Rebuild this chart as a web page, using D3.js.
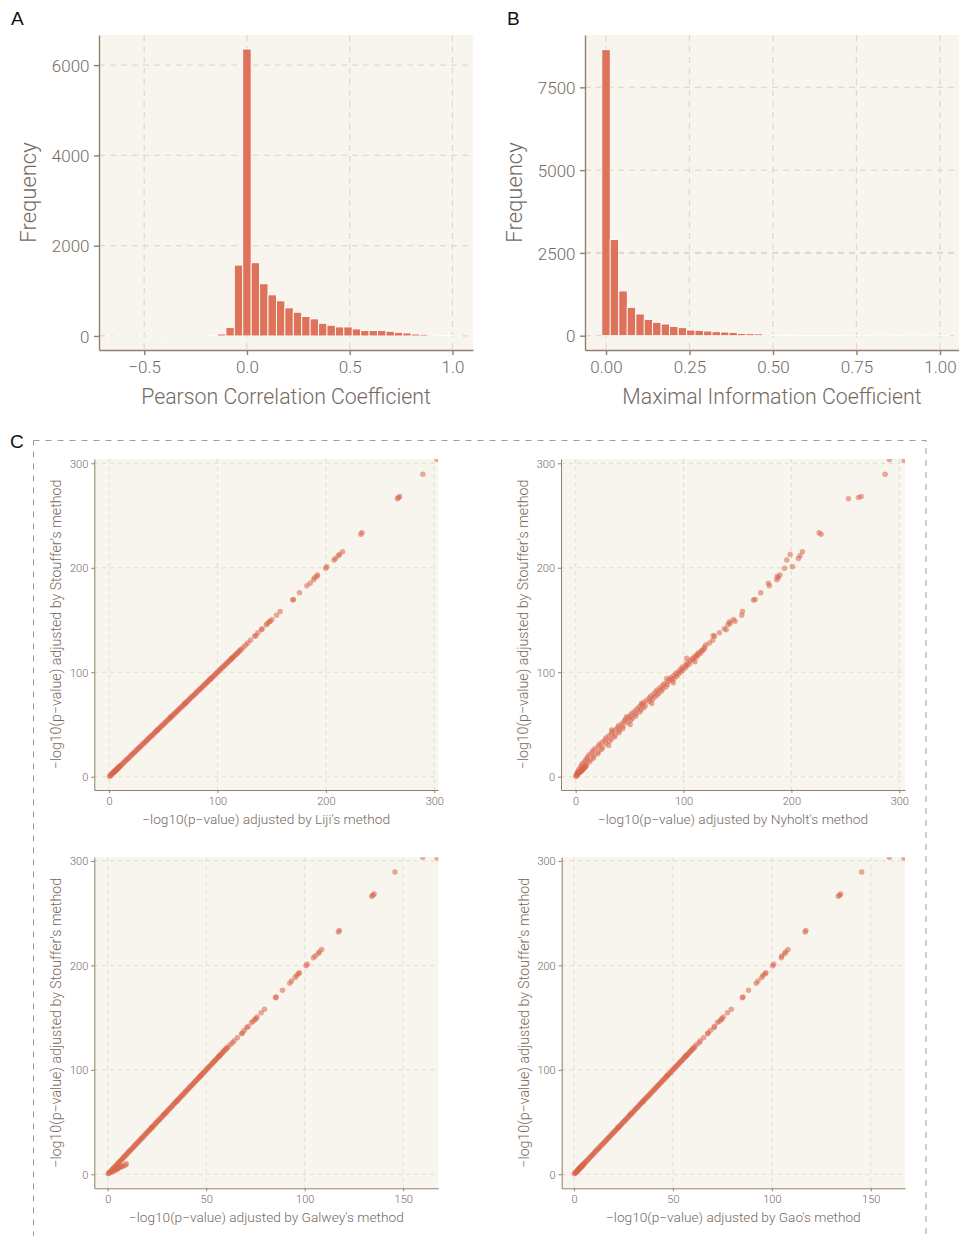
<!DOCTYPE html>
<html><head><meta charset="utf-8">
<script src="https://cdn.jsdelivr.net/npm/d3@7"></script>
<style>body{margin:0;background:#fff}svg{display:block}</style>
</head><body>
<svg id="chart" width="959" height="1236"></svg>
<script>
// ---------------- DATA ----------------
// Panel A: Pearson correlation histogram
const pearsonBinWidth = 0.041;
const pearsonMid = [-0.656,-0.615,-0.574,-0.533,-0.492,-0.451,-0.41,-0.369,-0.328,-0.287,-0.246,-0.205,-0.164,-0.123,-0.082,-0.041,0,0.041,0.082,0.123,0.164,0.205,0.246,0.287,0.328,0.369,0.41,0.451,0.492,0.533,0.574,0.615,0.656,0.697,0.738,0.779,0.82,0.861,0.902,0.943,0.984,1.025];
const pearsonCount = [1,1,1,1,1,2,2,2,3,3,4,6,15,44,185,1570,6356,1622,1156,911,778,622,526,430,378,281,237,200,200,156,119,119,119,104,81,67,44,37,22,15,10,5];
const pearsonXTicks = [-0.5,0,0.5,1.0];
const pearsonXLabels = ["\u22120.5","0.0","0.5","1.0"];
const pearsonYTicks = [0,2000,4000,6000];

// Panel B: MIC histogram
const micBinWidth = 0.0254;
const micMid = [0,0.025,0.051,0.076,0.102,0.127,0.152,0.178,0.203,0.229,0.254,0.279,0.305,0.33,0.356,0.381,0.406,0.432,0.457,0.483,0.508,0.533,0.559,0.584,0.61,0.635,0.66,0.686,0.711,0.737,0.762,0.787,0.813,0.838,0.864,0.889,0.914,0.94,0.965,0.991,1.016];
const micCount = [8639,2903,1351,857,655,494,403,353,282,242,171,161,141,121,111,101,70,60,55,30,25,20,15,12,10,8,6,5,4,3,3,2,2,2,1,1,1,1,1,1,1];
const micXTicks = [0,0.25,0.5,0.75,1.0];
const micXLabels = ["0.00","0.25","0.50","0.75","1.00"];
const micYTicks = [0,2500,5000,7500];

// Panel C: -log10(p) adjusted values (same tests in every sub-plot)
const stouffer = [
 0.5,2,4,6,8,10,12,14,16,18,20,22,24,26,28,30,32,34,36,38,40,42,44,46,48,50,52,54,56,58,60,62,64,66,68,70,72,74,76,78,80,82,84,86,88,90,92,94,96,98,100,102,104,106,108,110,112,114,116,118,120,122,
 1,3,5,7,9,11,13,15,17,19,21,23,25,27,29,31,33,35,37,39,41,43,45,47,49,51,53,55,57,59,61,63,65,67,69,71,73,75,77,79,81,83,85,87,89,91,93,95,97,99,101,103,105,107,109,111,113,115,117,119,121,
 303.6,302.7,289.5,268.3,267.2,266.1,233.5,232.1,215.3,212.8,211.4,208.9,207.4,201,199.6,193,191.9,190.4,188.5,185.1,182.8,176.1,169.7,169.1,158.1,154.6,150.5,148.9,148.3,146.6,145.4,141.6,140.6,137.7,135.2,134.5,130.7,127.9,126,124,
 44.7,57.4,70.2,94.1,113.3,
 2,3,4,5,6,7,8,9,10,4,6,8,5,7];
const liji = [
 0.5,2,4,6,8,10,12,14,16,18,20,22,24,26,28,30,32,34,36,38,40,42,44,46,48,50,52,54,56,58,60,62,64,66,68,70,72,74,76,78,80,82,84,86,88,90,92,94,96,98,100,102,104,106,108,110,112,114,116,118,120,122,
 1,3,5,7,9,11,13,15,17,19,21,23,25,27,29,31,33,35,37,39,41,43,45,47,49,51,53,55,57,59,61,63,65,67,69,71,73,75,77,79,81,83,85,87,89,91,93,95,97,99,101,103,105,107,109,111,113,115,117,119,121,
 302.9,309,289.4,268,267,266,233.3,232.2,215.3,212.6,211.5,208.8,207.5,200.8,199.8,192.2,191.8,189.5,188.7,185.5,182.5,175.6,170,169.5,157.8,154.5,150.2,148.5,148,146,145,141.2,140.5,137.3,135.5,134.2,130.5,128,126,124,
 44.5,57,70,94,113,
 2,3,4,5,6,7,8,9,10,4,6,8,5,7];
const nyholt = [
 0.5,1.5,3,5.5,6.5,9,10,12.5,14,16.5,17,20.5,21,24,25,30.5,28,31.5,33,36,36.5,40,40.5,43.5,44,50.5,48,51,52.5,55.5,56,59.5,60.5,63,64.5,70.5,68.5,71,73,75.5,77,79.5,80.5,83.5,85,90.5,89,91,93.5,95,97.5,99,101.5,103,105.5,110.5,109,111.5,113,115.5,117,119,
 0.3,1,2,3,4.5,5.5,6.5,8.5,10,11,12.5,15,16,18,21,22,24.5,27,28,30.5,33,34,37,39,40,43,45,46,49,51,52.5,55,57,59,61.5,63,65.5,68,69.5,72,74,75.5,78,80.5,82,85,87,88.5,91,93,95.5,97.5,99,102,103.5,106,108,110,112.5,114,117,
 290.9,304.5,286.9,264.7,262.2,252.9,225.7,227.5,210.2,198.8,208,206.5,195.7,200.9,193.5,189.4,186.9,187.8,186.3,178.7,179.6,171.6,166.3,164.8,154.6,154,146.2,147.8,142.5,143.2,141,137.8,139.6,133.2,127.6,128.6,127,124,120.5,119.5,
 33.4,47.3,61,84.4,103,
 1.5,2.5,3.5,4.5,5.5,6.5,7.5,8.5,9.5,3.5,5.5,7.5,4.5,6.5];
const galwey = [
 0.3,1,2,3,4,5,6,7,8,9,10,11,12,13,14,15,16,17,18,19,20,21,22,23,24,25,26,27,28,29,30,31,32,33,34,35,36,37,38,39,40,41,42,43,44,45,46,47,48,49,50,51,52,53,54,55,56,57,58,59,60,61,
 0.5,1.5,2.5,3.5,4.5,5.5,6.5,7.5,8.5,9.5,10.5,11.5,12.5,13.5,14.5,15.5,16.5,17.5,18.5,19.5,20.5,21.5,22.5,23.5,24.5,25.5,26.5,27.5,28.5,29.5,30.5,31.5,32.5,33.5,34.5,35.5,36.5,37.5,38.5,39.5,40.5,41.5,42.5,43.5,44.5,45.5,46.5,47.5,48.5,49.5,50.5,51.5,52.5,53.5,54.5,55.5,56.5,57.5,58.5,59.5,60.5,
 159.9,167.3,145.8,135.2,134.6,134,117.6,117.1,108.6,107.4,106.9,105.3,104.4,101.3,100.7,97.3,96.8,95.9,95.1,93.3,92.4,88.7,85.5,85.2,79.6,77.9,75.8,75.2,74.8,73.8,73,71.3,70.6,69.3,68.4,67.9,65.8,64.2,63.3,62.2,
 22.4,28.7,35.1,47.1,56.7,
 2,3,4,5,5.5,7,8,9,9.5,3,5,7,4,6];
const gao = [
 0.3,1,2,3,4,5,6,7,8,9,10,11,12,13,14,15,16,17,18,19,20,21,22,23,24,25,26,27,28,29,30,31,32,33,34,35,36,37,38,39,40,41,42,43,44,45,46,47,48,49,50,51,52,53,54,55,56,57,58,59,60,61,
 0.5,1.5,2.5,3.5,4.5,5.5,6.5,7.5,8.5,9.5,10.5,11.5,12.5,13.5,14.5,15.5,16.5,17.5,18.5,19.5,20.5,21.5,22.5,23.5,24.5,25.5,26.5,27.5,28.5,29.5,30.5,31.5,32.5,33.5,34.5,35.5,36.5,37.5,38.5,39.5,40.5,41.5,42.5,43.5,44.5,45.5,46.5,47.5,48.5,49.5,50.5,51.5,52.5,53.5,54.5,55.5,56.5,57.5,58.5,59.5,60.5,
 159.4,166.8,145.4,134.8,134.2,133.6,117.2,116.8,108.2,107,106.5,105,104.8,101,100.4,97,96.6,95.5,94.9,93,92.1,88.2,85.4,85.1,79.5,77.6,75.5,74.7,74.5,73.5,72.5,71,70.8,69,67.8,67.5,65.5,63.8,63.3,61.8,
 22.3,28.6,35,47,56.6,
 1,1.5,2,2.5,3,3.5,4,4.5,5,2,3,4,2.5,3.5];
const stoufferTicks = [0,100,200,300];
const ticks300 = [0,100,200,300];
const ticks150 = [0,50,100,150];

// ---------------- STYLE ----------------
const C = {bg:'#F8F5EE', grid:'#E0DAC8', axis:'#927F6C', text:'#76695E', bar:'#DE735B', point:'#D8664C'};
const FONT = "Roboto, 'Liberation Sans', Arial, sans-serif";
const svg = d3.select('#chart');

function styleAxis(ax, w){
  ax.select('.domain').attr('stroke', C.axis).attr('stroke-width', w);
  ax.selectAll('.tick line').attr('stroke', C.axis).attr('stroke-width', w);
  ax.selectAll('.tick text').attr('fill', C.text).attr('font-family', FONT).attr('font-weight', 300);
}

function hist(o){
  const g = svg.append('g');
  const x = d3.scaleLinear().domain(o.xDom).range([o.left, o.right]);
  const y = d3.scaleLinear().domain(o.yDom).range([o.bottom, o.top]);
  g.append('rect').attr('x', o.left).attr('y', o.top).attr('width', o.right - o.left).attr('height', o.bottom - o.top).attr('fill', C.bg);
  g.selectAll(null).data(o.xTicks).join('line')
    .attr('x1', d => x(d)).attr('x2', d => x(d)).attr('y1', o.top).attr('y2', o.bottom)
    .attr('stroke', C.grid).attr('stroke-width', 1.3).attr('stroke-dasharray', '6,5');
  g.selectAll(null).data(o.yTicks).join('line')
    .attr('y1', d => y(d)).attr('y2', d => y(d)).attr('x1', o.left).attr('x2', o.right)
    .attr('stroke', C.grid).attr('stroke-width', (d, i) => o.thick === d ? 2.4 : 1.3).attr('stroke-dasharray', '6,5');
  g.selectAll(null).data(o.mids).join('rect')
    .attr('x', d => x(d - o.w / 2)).attr('width', d => x(d + o.w / 2) - x(d - o.w / 2))
    .attr('y', (d, i) => y(o.counts[i])).attr('height', (d, i) => y(0) - y(o.counts[i]))
    .attr('fill', C.bar).attr('stroke', '#fff').attr('stroke-width', 0.9);
  const ax = g.append('g').attr('transform', `translate(0,${o.bottom})`)
    .call(d3.axisBottom(x).tickValues(o.xTicks).tickFormat((d, i) => o.xLabels[i]).tickSize(5).tickSizeOuter(0));
  styleAxis(ax, 1.4);
  ax.selectAll('.tick text').attr('y', 23).attr('dy', 0).attr('font-size', 17);
  const ay = g.append('g').attr('transform', `translate(${o.left},0)`)
    .call(d3.axisLeft(y).tickValues(o.yTicks).tickFormat(d3.format('d')).tickSize(5).tickSizeOuter(0));
  styleAxis(ay, 1.4);
  ay.selectAll('.tick text').attr('x', -9.5).attr('dy', '0.36em').attr('font-size', 17);
  g.append('text').attr('x', (o.left + o.right) / 2).attr('y', o.bottom + 54).attr('text-anchor', 'middle')
    .attr('font-family', FONT).attr('font-weight', 300).attr('font-size', 21.3).attr('fill', C.text).text(o.xTitle);
  g.append('text').attr('transform', `translate(${o.left - 63},${(o.top + o.bottom) / 2}) rotate(-90)`).attr('text-anchor', 'middle')
    .attr('font-family', FONT).attr('font-weight', 300).attr('font-size', 22).attr('fill', C.text).text('Frequency');
}

let clipId = 0;
function scatter(o){
  const g = svg.append('g');
  const x = d3.scaleLinear().domain(o.xDom).range([o.left, o.right]);
  const y = d3.scaleLinear().domain(o.yDom).range([o.bottom, o.top]);
  g.append('rect').attr('x', o.left).attr('y', o.top).attr('width', o.right - o.left).attr('height', o.bottom - o.top).attr('fill', C.bg);
  g.selectAll(null).data(o.xTicks).join('line')
    .attr('x1', d => x(d)).attr('x2', d => x(d)).attr('y1', o.top).attr('y2', o.bottom)
    .attr('stroke', C.grid).attr('stroke-width', 0.9).attr('stroke-dasharray', '4,4');
  g.selectAll(null).data(stoufferTicks).join('line')
    .attr('y1', d => y(d)).attr('y2', d => y(d)).attr('x1', o.left).attr('x2', o.right)
    .attr('stroke', C.grid).attr('stroke-width', 0.9).attr('stroke-dasharray', '4,4');
  const id = 'clip' + (clipId++);
  svg.append('clipPath').attr('id', id).append('rect')
    .attr('x', o.left).attr('y', o.top).attr('width', o.right - o.left).attr('height', o.bottom - o.top);
  g.append('g').attr('clip-path', `url(#${id})`).selectAll('circle').data(o.xs).join('circle')
    .attr('cx', d => x(d)).attr('cy', (d, i) => y(stouffer[i])).attr('r', 2.75)
    .attr('fill', C.point).attr('fill-opacity', 0.55);
  const ax = g.append('g').attr('transform', `translate(0,${o.bottom})`)
    .call(d3.axisBottom(x).tickValues(o.xTicks).tickFormat(d3.format('d')).tickSize(3).tickSizeOuter(0));
  styleAxis(ax, 1);
  ax.selectAll('.tick text').attr('y', 15).attr('dy', 0).attr('font-size', 11);
  const ay = g.append('g').attr('transform', `translate(${o.left},0)`)
    .call(d3.axisLeft(y).tickValues(stoufferTicks).tickFormat(d3.format('d')).tickSize(3).tickSizeOuter(0));
  styleAxis(ay, 1);
  ay.selectAll('.tick text').attr('x', -6).attr('dy', '0.36em').attr('font-size', 11);
  g.append('text').attr('x', (o.left + o.right) / 2).attr('y', o.bottom + 34).attr('text-anchor', 'middle')
    .attr('font-family', FONT).attr('font-weight', 300).attr('font-size', 13.7).attr('fill', C.text).text(o.xTitle);
  g.append('text').attr('transform', `translate(${o.left - 33},${(o.top + o.bottom) / 2}) rotate(-90)`).attr('text-anchor', 'middle')
    .attr('font-family', FONT).attr('font-weight', 300).attr('font-size', 14.2).attr('fill', C.text)
    .text("\u2212log10(p\u2212value) adjusted by Stouffer's method");
}

// ---------------- DRAW ----------------
hist({left: 99, right: 473, top: 35, bottom: 350, xDom: [-0.72, 1.10], yDom: [-311, 6667],
  mids: pearsonMid, counts: pearsonCount, w: pearsonBinWidth,
  xTicks: pearsonXTicks, xLabels: pearsonXLabels, yTicks: pearsonYTicks, xTitle: 'Pearson Correlation Coefficient'});
hist({left: 585, right: 959, top: 35, bottom: 350, xDom: [-0.063, 1.057], yDom: [-432, 9081],
  mids: micMid, counts: micCount, w: micBinWidth, thick: 2500,
  xTicks: micXTicks, xLabels: micXLabels, yTicks: micYTicks, xTitle: 'Maximal Information Coefficient'});

// dashed frame of panel C
svg.append('rect').attr('x', 33.5).attr('y', 440.5).attr('width', 892.5).attr('height', 820)
  .attr('fill', 'none').attr('stroke', '#9C9C9C').attr('stroke-width', 1).attr('stroke-dasharray', '6,6');

scatter({left: 94.3, right: 438, top: 459, bottom: 790, xDom: [-13.6, 303.4], yDom: [-12.7, 304.1],
  xs: liji, xTicks: ticks300, xTitle: "\u2212log10(p\u2212value) adjusted by Liji's method"});
scatter({left: 561, right: 905, top: 459, bottom: 790, xDom: [-13.6, 305.3], yDom: [-12.7, 304.1],
  xs: nyholt, xTicks: ticks300, xTitle: "\u2212log10(p\u2212value) adjusted by Nyholt's method"});
scatter({left: 94.3, right: 438.3, top: 857.3, bottom: 1188.3, xDom: [-6.8, 167.8], yDom: [-13.4, 303.5],
  xs: galwey, xTicks: ticks150, xTitle: "\u2212log10(p\u2212value) adjusted by Galwey's method"});
scatter({left: 561.7, right: 905, top: 857.3, bottom: 1188.3, xDom: [-6.2, 167.3], yDom: [-13.4, 303.5],
  xs: gao, xTicks: ticks150, xTitle: "\u2212log10(p\u2212value) adjusted by Gao's method"});

// panel letters
[['A', 11, 25], ['B', 507, 25], ['C', 10, 448]].forEach(([t, x, y]) => {
  svg.append('text').attr('x', x).attr('y', y).attr('font-family', "'Liberation Sans', Arial, sans-serif")
    .attr('font-size', 19).attr('fill', '#111').text(t);
});
</script>
</body></html>
